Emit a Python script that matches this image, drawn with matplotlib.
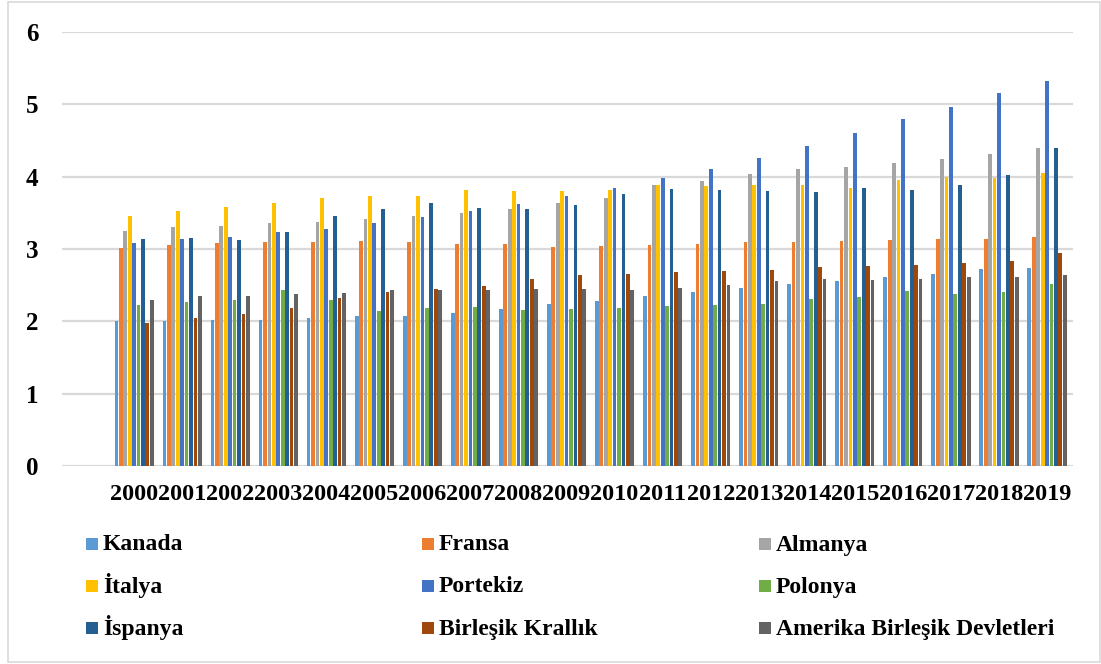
import numpy as np
import matplotlib
matplotlib.use("Agg")
import matplotlib.pyplot as plt
from matplotlib.patches import Rectangle

years = [str(y) for y in range(2000, 2020)]

countries = ["Kanada", "Fransa", "Almanya", "İtalya", "Portekiz", "Polonya",
             "İspanya", "Birleşik Krallık", "Amerika Birleşik Devletleri"]
colors = ["#5B9BD5", "#ED7D31", "#A5A5A5", "#FFC000", "#4472C4", "#70AD47",
          "#255E91", "#9E480E", "#636363"]

kanada = [2.01, 2.01, 2.02, 2.02, 2.04, 2.08, 2.08, 2.12, 2.17, 2.24,
          2.28, 2.35, 2.41, 2.46, 2.51, 2.56, 2.61, 2.66, 2.72, 2.74]
fransa = [3.02, 3.06, 3.08, 3.09, 3.10, 3.11, 3.10, 3.07, 3.07, 3.03,
          3.04, 3.06, 3.07, 3.09, 3.09, 3.11, 3.12, 3.14, 3.14, 3.17]
almanya = [3.25, 3.30, 3.32, 3.36, 3.38, 3.41, 3.45, 3.50, 3.55, 3.63,
           3.71, 3.88, 3.94, 4.04, 4.11, 4.14, 4.19, 4.25, 4.31, 4.39]
italya = [3.45, 3.52, 3.58, 3.64, 3.71, 3.73, 3.73, 3.81, 3.80, 3.80,
          3.82, 3.89, 3.87, 3.89, 3.88, 3.84, 3.95, 3.99, 3.98, 4.05]
portekiz = [3.08, 3.14, 3.17, 3.23, 3.28, 3.36, 3.44, 3.53, 3.62, 3.73,
            3.85, 3.98, 4.10, 4.26, 4.43, 4.61, 4.80, 4.97, 5.15, 5.32]
polonya = [2.22, 2.27, 2.30, 2.43, 2.29, 2.14, 2.19, 2.20, 2.16, 2.17,
           2.19, 2.21, 2.22, 2.24, 2.31, 2.33, 2.42, 2.38, 2.40, 2.52]
ispanya = [3.14, 3.15, 3.13, 3.23, 3.45, 3.55, 3.63, 3.57, 3.55, 3.61,
           3.76, 3.83, 3.82, 3.80, 3.79, 3.85, 3.82, 3.88, 4.02, 4.40]
birlesik_krallik = [1.98, 2.04, 2.10, 2.19, 2.32, 2.41, 2.45, 2.49, 2.58, 2.64,
                    2.65, 2.68, 2.70, 2.71, 2.75, 2.77, 2.78, 2.81, 2.83, 2.94]
abd = [2.30, 2.35, 2.35, 2.38, 2.39, 2.43, 2.43, 2.43, 2.45, 2.45,
       2.43, 2.46, 2.50, 2.56, 2.58, 2.57, 2.59, 2.61, 2.61, 2.64]

series = [kanada, fransa, almanya, italya, portekiz, polonya,
          ispanya, birlesik_krallik, abd]

plt.rcParams["font.family"] = ["Liberation Serif", "DejaVu Serif"]
plt.rcParams["font.weight"] = "bold"

W, H = 1101, 664
fig = plt.figure(figsize=(W / 100, H / 100), dpi=100)
ax = fig.add_axes([62 / W, (H - 466) / H, 1011 / W, 434 / H])

x = np.arange(len(years))
slot = 0.092
for k, (name, vals, c) in enumerate(zip(countries, series, colors)):
    ax.bar(x + (k - 4) * slot, vals, width=0.078, color=c, zorder=3)

ax.set_ylim(0, 6)
ax.set_xlim(-1.5, 19.54)
ax.set_yticks(range(0, 7))
ax.set_xticks(x)
ax.set_xticklabels(years)
ax.grid(axis="y", color="#D9D9D9", linewidth=1.6, zorder=0)
for s in ax.spines.values():
    s.set_visible(False)
ax.tick_params(axis="y", length=0, pad=17, labelsize=18)
ax.tick_params(axis="x", length=0, pad=13, labelsize=17.5)
for t in ax.get_xticklabels() + ax.get_yticklabels():
    t.set_fontweight("bold")

# legend laid out in three rows of three
col_x = [86, 422, 759]
row_y = [543.5, 585.5, 627.5]
for k, (name, c) in enumerate(zip(countries, colors)):
    r, cidx = divmod(k, 3)
    px, py = col_x[cidx], row_y[r]
    fig.add_artist(Rectangle((px / W, (H - py - 6) / H), 12 / W, 12 / H,
                             transform=fig.transFigure, facecolor=c,
                             edgecolor="none"))
    fig.text((px + 17) / W, (H - py - 7) / H, name, fontsize=17,
             fontweight="bold", va="baseline", ha="left")

# outer frame
fig.add_artist(Rectangle((8 / W, 2 / H), 1092 / W, 660 / H,
                         transform=fig.transFigure, fill=False,
                         edgecolor="#D9D9D9", linewidth=1.2))

fig.savefig("out.png", dpi=100)
